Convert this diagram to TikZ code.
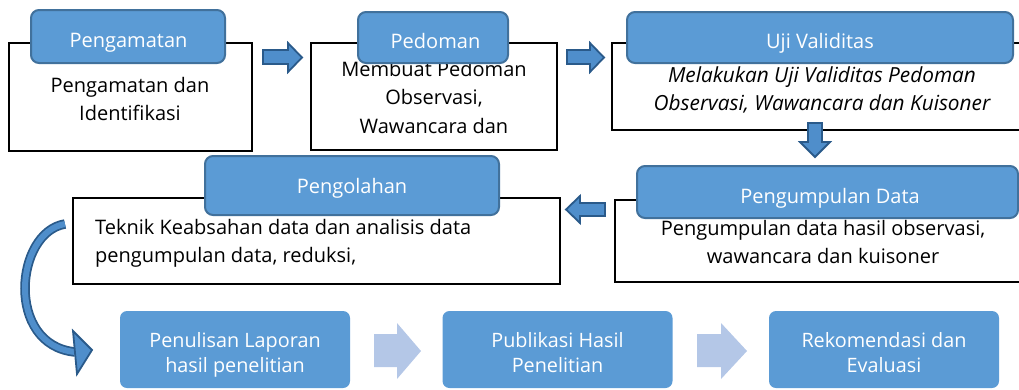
\documentclass[tikz,border=0pt]{standalone}
\usepackage{fontspec}
\setmainfont{Open Sans}
\definecolor{tabfill}{HTML}{5B9BD5}
\definecolor{tabline}{HTML}{41719C}
\definecolor{arrowfill}{HTML}{4F8ECB}
\definecolor{arrowline}{HTML}{2A5A8A}
\definecolor{lightarrow}{HTML}{B4C7E7}
\begin{document}
\begin{tikzpicture}[x=1pt,y=-1pt,
  frame/.style={draw=black,line width=2.4pt,fill=white,inner sep=0pt,rectangle},
  tab/.style={draw=tabline,line width=2pt,fill=tabfill,rounded corners=8pt,inner sep=0pt},
  tabtext/.style={text=white,inner sep=0pt,font=\fontsize{20}{24}\selectfont},
  body/.style={align=center,inner sep=0pt,font=\fontsize{20}{28}\selectfont},
  bottombox/.style={fill=tabfill,rounded corners=7pt,inner sep=0pt,minimum width=230pt,minimum height=77pt},
  bottomtext/.style={align=center,text=white,inner sep=0pt,font=\fontsize{19.8}{25}\selectfont},
  blockarrow/.style={fill=arrowfill,draw=arrowline,line width=1.8pt,line join=miter},
  lightarr/.style={fill=lightarrow}]
\useasboundingbox (0,0) rectangle (1019,389);
\clip (0,0) rectangle (1019,389);

% Step 1
\node[frame,minimum width=243pt,minimum height=108pt] (f1) at (130.5,97) {};
\node[body,anchor=base] (t1) at (130,120) {Pengamatan dan\\Identifikasi};
\node[tab,minimum width=194pt,minimum height=53pt] (l1) at (128,36.5) {};
\node[tabtext,anchor=base] (lt1) at (128.5,47) {Pengamatan};

% Step 2
\node[frame,minimum width=246pt,minimum height=107pt] (f2) at (434,96.5) {};
\node[body,anchor=base,font=\fontsize{20}{28.5}\selectfont] (t2) at (434,133) {Membuat Pedoman\\Observasi,\\Wawancara dan};
\node[tab,minimum width=150pt,minimum height=51pt] (l2) at (433,37.5) {};
\node[tabtext,anchor=base] (lt2) at (435.5,48) {Pedoman};

% Step 3
\node[frame,minimum width=419pt,minimum height=87pt] (f3) at (821.5,86.5) {};
\node[body,anchor=base,font=\fontsize{20.8}{28}\selectfont\itshape] (t3) at (822,110) {Melakukan Uji Validitas Pedoman\\Observasi, Wawancara dan Kuisoner};
\node[tab,minimum width=386pt,minimum height=51pt] (l3) at (820,37.5) {};
\node[tabtext,anchor=base] (lt3) at (820,48) {Uji Validitas};

% Step 4
\node[frame,minimum width=416pt,minimum height=82pt] (f4) at (823,241) {};
\node[body,anchor=base] (t4) at (823,263) {Pengumpulan data hasil observasi,\\wawancara dan kuisoner};
\node[tab,minimum width=381pt,minimum height=52pt] (l4) at (827.5,192) {};
\node[tabtext,anchor=base] (lt4) at (830,203) {Pengumpulan Data};

% Step 5
\node[frame,minimum width=487pt,minimum height=86pt] (f5) at (316.5,241) {};
\node[body,anchor=base west,align=left] (t5) at (95,262) {Teknik Keabsahan data dan analisis data\\pengumpulan data, reduksi,};
\node[tab,minimum width=294pt,minimum height=59pt] (l5) at (352,185.5) {};
\node[tabtext,anchor=base] (lt5) at (352,193) {Pengolahan};

% Block arrows
\draw[blockarrow] (263,50) -- (288,50) -- (288,43) -- (302,57.5) -- (288,72) -- (288,64) -- (263,64) -- cycle;
\draw[blockarrow] (567,50) -- (590,50) -- (590,43) -- (604,57.5) -- (590,72) -- (590,64) -- (567,64) -- cycle;
\draw[blockarrow] (808,123) -- (822,123) -- (822,142) -- (830,142) -- (815,157) -- (800,142) -- (808,142) -- cycle;
\draw[blockarrow] (605,203) -- (580,203) -- (580,196) -- (566,209.5) -- (580,223) -- (580,216) -- (605,216) -- cycle;

% Curved arrow
\coordinate (cs) at (65,224);
\coordinate (ce) at (75,352);
\draw[draw=arrowline,line width=9.5pt] (cs) .. controls (15,232) and (5,345) .. (ce);
\draw[draw=arrowfill,line width=6pt] (cs) .. controls (15,232) and (5,345) .. (ce);
\draw[blockarrow] (73,331) -- (92,350) -- (77,374) -- cycle;

% Bottom row
\node[bottombox] (b1) at (235,349.5) {};
\node[bottomtext,anchor=base] (bt1) at (235,372) {Penulisan Laporan\\hasil penelitian};
\node[bottombox] (b2) at (557.5,349.5) {};
\node[bottomtext,anchor=base] (bt2) at (557.5,372) {Publikasi Hasil\\Penelitian};
\node[bottombox] (b3) at (884,349.5) {};
\node[bottomtext,anchor=base] (bt3) at (884,372) {Rekomendasi dan\\Evaluasi};

\fill[lightarr] (374,334) -- (397,334) -- (397,323) -- (421,351) -- (397,379) -- (397,367) -- (374,367) -- cycle;
\fill[lightarr] (697,334) -- (721,334) -- (721,323) -- (747,351) -- (721,379) -- (721,367) -- (697,367) -- cycle;
\end{tikzpicture}
\end{document}
